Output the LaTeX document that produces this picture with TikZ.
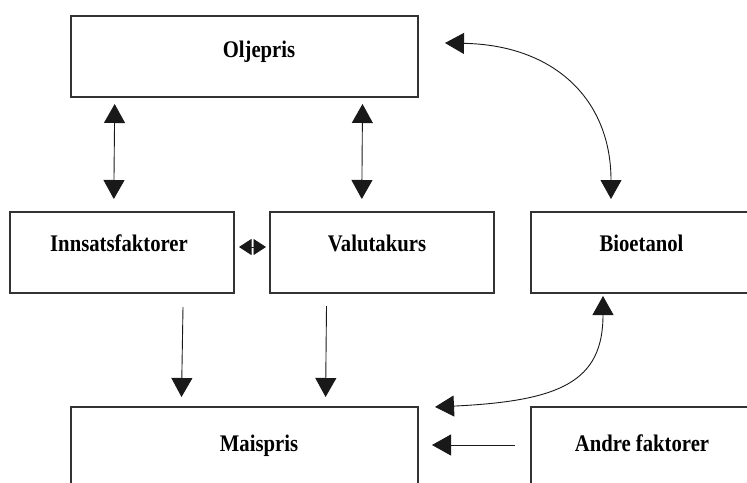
\documentclass[tikz,border=0pt]{standalone}
\usepackage{fontspec}
\setmainfont{Liberation Serif}
\usetikzlibrary{arrows.meta}
\newcommand{\tall}[1]{\scalebox{1}[1.15]{#1}}
\begin{document}
\begin{tikzpicture}[x=1pt,y=-1pt,
  box/.style={draw=black!80, line width=1.3pt, inner sep=0pt, minimum width=224pt, minimum height=81pt},
  widebox/.style={box, minimum width=347pt},
  lbl/.style={font=\fontsize{20.7}{24}\selectfont\bfseries, anchor=base, inner sep=0pt},
  con/.style={line width=0.9pt, draw=black!90},
  bighead/.tip={Triangle[length=19pt,width=21pt]},
  smallhead/.tip={Triangle[length=12.5pt,width=16pt]}]
\useasboundingbox (0,0) rectangle (747,482);
\clip (0,0) rectangle (747,482);
% boxes
\node[widebox] (olje) at (244.5,56.5) {};
\node[box] (inns) at (122,252.5) {};
\node[box] (valu) at (382,252.5) {};
\node[box] (bio) at (643,252.5) {};
\node[widebox] (mais) at (244.5,447.5) {};
\node[box] (andre) at (643,447.5) {};
% labels
\node[lbl] (tolje) at (259,57.3) {\tall{Oljepris}};
\node[lbl] (tinns) at (119,251) {\tall{Innsatsfaktorer}};
\node[lbl] (tvalu) at (377,251) {\tall{Valutakurs}};
\node[lbl] (tbio) at (641.5,251) {\tall{Bioetanol}};
\node[lbl] (tmais) at (259,451) {\tall{Maispris}};
\node[lbl] (tandre) at (642,451) {\tall{Andre faktorer}};
% connector end points
\coordinate (oi1) at (114.7,104);
\coordinate (oi2) at (113.8,199);
\coordinate (ov1) at (362.5,104);
\coordinate (ov2) at (361.8,199);
\coordinate (im1) at (183,307);
\coordinate (im2) at (181.5,397);
\coordinate (vm1) at (326.5,306);
\coordinate (vm2) at (325.6,397);
\coordinate (iv1) at (239,247);
\coordinate (iv2) at (266,247);
\coordinate (am1) at (515,445);
\coordinate (am2) at (432,445);
\coordinate (ob1) at (445,43);
\coordinate (ob2) at (611,199);
\coordinate (bm1) at (435,407);
\coordinate (bm2) at (603,296);
% connectors
\draw[con, bighead-bighead] (oi1) -- (oi2);
\draw[con, bighead-bighead] (ov1) -- (ov2);
\draw[con, -bighead] (im1) -- (im2);
\draw[con, -bighead] (vm1) -- (vm2);
\draw[con, smallhead-smallhead] (iv1) -- (iv2);
\draw[con, -bighead] (am1) -- (am2);
\draw[con, bighead-bighead] (ob1) .. controls (555,45) and (611,100) .. (ob2);
\draw[con, bighead-bighead] (bm1) .. controls (560,401) and (603,382) .. (bm2);
\end{tikzpicture}
\end{document}
